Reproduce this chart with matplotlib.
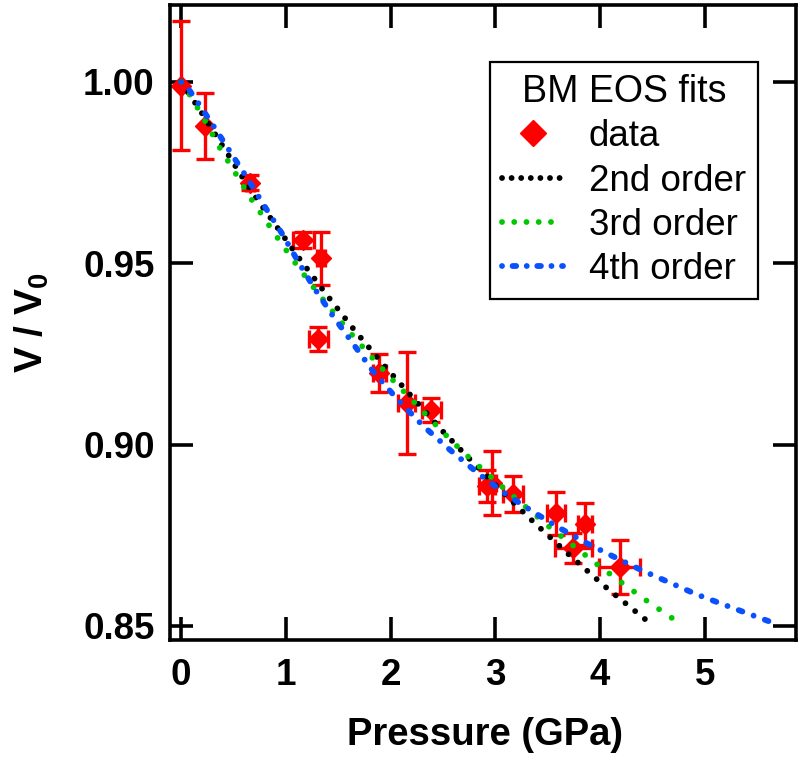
import matplotlib
matplotlib.use("Agg")
import matplotlib.pyplot as plt
from matplotlib.lines import Line2D
from matplotlib.ticker import FormatStrFormatter

plt.rcParams['font.family'] = ['Liberation Sans', 'DejaVu Sans']
plt.rcParams['mathtext.fontset'] = 'custom'
plt.rcParams['mathtext.rm'] = 'Liberation Sans:bold'
plt.rcParams['mathtext.bf'] = 'Liberation Sans:bold'
plt.rcParams['mathtext.default'] = 'regular'
plt.rcParams['lines.scale_dashes'] = False

# Measured compression data: pressure (GPa), relative volume and uncertainties
pressure = [0.00, 0.227, 0.657, 1.166, 1.335, 1.311, 1.892, 2.154, 2.388,
            2.92, 2.97, 3.172, 3.58, 3.857, 3.745, 4.19]
volume = [0.999, 0.9879, 0.9722, 0.9563, 0.9514, 0.929, 0.9197, 0.9114, 0.9095,
          0.8886, 0.8893, 0.8863, 0.8810, 0.8781, 0.8714, 0.8663]
pressure_err = [0.0, 0.0, 0.04, 0.10, 0.04, 0.088, 0.06, 0.08, 0.09,
                0.08, 0.04, 0.095, 0.09, 0.064, 0.175, 0.196]
volume_err = [0.0177, 0.0091, 0.002, 0.0022, 0.0073, 0.0033, 0.0053, 0.014, 0.0032,
              0.0045, 0.0088, 0.005, 0.006, 0.0058, 0.0041, 0.0074]

# Birch-Murnaghan fit curves
p_bm2 = [0, 0.068, 0.173, 0.339, 0.504, 0.673, 0.855, 1.103, 1.373, 1.653, 1.946,
         2.265, 2.503, 2.758, 3.013, 3.363, 3.72, 4.07, 4.423, 4.515]
v_bm2 = [1.0, 0.9970, 0.9925, 0.9849, 0.9774, 0.9697, 0.9624, 0.9523, 0.9419, 0.9316,
         0.9215, 0.9112, 0.9035, 0.8959, 0.8885, 0.8787, 0.8692, 0.8603, 0.852, 0.850]

p_bm3 = [0, 0.11, 0.244, 0.371, 0.514, 0.657, 0.896, 1.055, 1.23, 1.415, 1.606, 1.81,
         2.02, 2.24, 2.472, 2.70, 3.055, 3.523, 3.984, 4.217, 4.452, 4.685, 4.80]
v_bm3 = [1.0, 0.9952, 0.9884, 0.9817, 0.975, 0.9682, 0.958, 0.9514, 0.9446, 0.9378,
         0.9311, 0.9244, 0.9178, 0.9112, 0.9042, 0.8977, 0.8886, 0.8771, 0.8667,
         0.8617, 0.8568, 0.8522, 0.850]

p_bm4 = [0, 0.036, 0.132, 0.307, 0.466, 0.641, 0.794, 0.96, 1.118, 1.278, 1.453, 1.644,
         1.835, 2.058, 2.312, 2.56, 2.838, 3.093, 3.357, 3.618, 3.879, 4.143, 4.407,
         4.668, 4.92, 5.187, 5.45, 5.713]
v_bm4 = [1.0, 0.9994, 0.9955, 0.9879, 0.9808, 0.973, 0.9658, 0.9583, 0.9504, 0.9428,
         0.9353, 0.9277, 0.9201, 0.9127, 0.9051, 0.8987, 0.892, 0.8865, 0.8815, 0.8769,
         0.8727, 0.8689, 0.8652, 0.8619, 0.8587, 0.8558, 0.853, 0.8502]

x_ticks = [0, 1, 2, 3, 4, 5]
y_ticks = [0.85, 0.90, 0.95, 1.00]

RED = '#ff0000'
GREEN = '#00c800'
BLUE = '#0a50ff'

fig = plt.figure(figsize=(8.04, 7.61), dpi=100)
ax = fig.add_axes([170 / 804, 121 / 761, 625.7 / 804, 635 / 761])

ax.errorbar(pressure, volume, xerr=pressure_err, yerr=volume_err, fmt='D',
            color=RED, ms=10, mec=RED, mfc=RED, elinewidth=2.4, capsize=6.8,
            capthick=2.4, zorder=2)

ax.plot(p_bm2, v_bm2, color='black', lw=4.2, dash_capstyle='round',
        linestyle=(0, (0.01, 9.0)), zorder=3)
ax.plot(p_bm3, v_bm3, color=GREEN, lw=4.2, dash_capstyle='round',
        linestyle=(0, (0.01, 11.0)), zorder=3)
ax.plot(p_bm4, v_bm4, color=BLUE, lw=4.2, dash_capstyle='round',
        linestyle=(0, (0.01, 8.6, 2.8, 8.6)), zorder=3)

ax.set_xlim(-0.107, 5.869)
ax.set_ylim(0.8461, 1.0212)
ax.set_xticks(x_ticks)
ax.set_yticks(y_ticks)
ax.yaxis.set_major_formatter(FormatStrFormatter('%.2f'))
ax.minorticks_off()

for side in ax.spines.values():
    side.set_linewidth(2.6)
ax.tick_params(which='major', direction='in', length=16.5, width=2.6,
               top=True, right=True, labelsize=26.5, colors='black')
ax.tick_params(axis='x', pad=13)
ax.tick_params(axis='y', pad=11)
for lab in ax.get_xticklabels() + ax.get_yticklabels():
    lab.set_fontweight('bold')

ax.set_xlabel('Pressure (GPa)', fontsize=27.5, fontweight='bold')
ax.set_ylabel('V / V$_0$', fontsize=28, fontweight='bold')
ax.xaxis.set_label_coords(0.503, -0.121)
ax.yaxis.set_label_coords(-0.190, 0.5)

handles = [
    Line2D([], [], marker='D', color=RED, linestyle='none', ms=13),
    Line2D([], [], color='black', lw=4.2, dash_capstyle='round',
           linestyle=(0, (0.01, 6.9))),
    Line2D([], [], color=GREEN, lw=4.2, dash_capstyle='round',
           linestyle=(0, (0.01, 8.8))),
    Line2D([], [], color=BLUE, lw=4.2, dash_capstyle='round',
           linestyle=(0, (0.01, 7.6, 2.6, 7.6))),
]
labels = ['data', '2nd order', '3rd order', '4th order']
leg = ax.legend(handles, labels, title='BM EOS fits', loc='upper right',
                bbox_to_anchor=(0.9398, 0.9102), borderaxespad=0,
                fontsize=26.5, title_fontsize=27, frameon=True, fancybox=False,
                edgecolor='black', framealpha=1, handlelength=1.65,
                handletextpad=0.7, labelspacing=0.25, borderpad=0.33)
leg.get_frame().set_linewidth(1.6)

fig.savefig('out.png', dpi=100, facecolor='white')
